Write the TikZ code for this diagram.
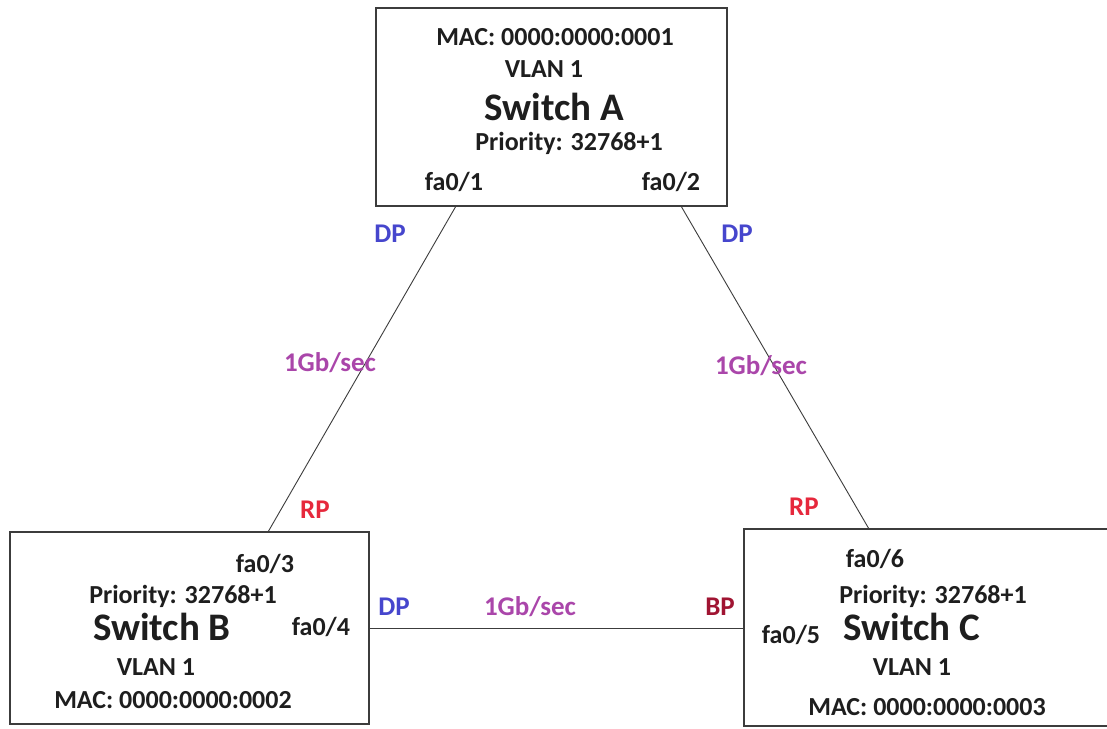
\documentclass[tikz,border=0pt]{standalone}
\usepackage{fontspec}
\setmainfont{Carlito}
\definecolor{dpblue}{RGB}{70,70,205}
\definecolor{gbpurple}{RGB}{170,70,170}
\definecolor{rpred}{RGB}{230,40,60}
\definecolor{bpred}{RGB}{160,20,50}
\definecolor{boxgray}{RGB}{60,60,60}
\definecolor{txt}{RGB}{30,30,30}
\tikzset{
  sw/.style={draw=boxgray, line width=1.8pt, fill=white, inner sep=0pt},
  lbl/.style={font=\bfseries\fontsize{26}{30}\selectfont, text=txt, inner sep=0pt, anchor=base},
  big/.style={font=\bfseries\fontsize{39}{44}\selectfont, text=txt, inner sep=0pt, anchor=base},
  link/.style={draw=boxgray, line width=0.9pt},
  dp/.style={font=\bfseries\fontsize{27}{31}\selectfont, text=dpblue, inner sep=0pt},
  rp/.style={font=\bfseries\fontsize{27}{31}\selectfont, text=rpred, inner sep=0pt},
  bp/.style={font=\bfseries\fontsize{27}{31}\selectfont, text=bpred, inner sep=0pt},
  gb/.style={font=\bfseries\fontsize{27}{31}\selectfont, text=gbpurple, inner sep=0pt},
}
\begin{document}
\begin{tikzpicture}[x=1pt,y=-1pt]
\useasboundingbox (0,0) rectangle (1107,728);
\fill[white] (0,0) rectangle (1107,728);
% links first
\coordinate (pA1) at (456,206);
\coordinate (pB3) at (268,532);
\coordinate (pA2) at (681,206);
\coordinate (pC6) at (869,529);
\coordinate (pB4) at (369,628);
\coordinate (pC5) at (744,628);
\draw[link] (pA1) -- (pB3);
\draw[link] (pA2) -- (pC6);
\draw[link] (pB4) -- (pC5);
% boxes
\node[sw, minimum width=351pt, minimum height=198pt] (A) at (551.5,107) {};
\node[sw, minimum width=359pt, minimum height=192pt] (B) at (189.5,628) {};
\node[sw, minimum width=380pt, minimum height=197pt] (C) at (934,627.5) {};
% switch A text (base anchors)
\node[lbl] (amac) at (555,45) {MAC: 0000:0000:0001};
\node[lbl] (avlan) at (544,77) {VLAN 1};
\node[big] (aname) at (554,120) {Switch A};
\node[lbl] (apri) at (569,150) {Priority: 32768+1};
\node[lbl] (afa1) at (454,190) {fa0/1};
\node[lbl] (afa2) at (671,190) {fa0/2};
% switch B text
\node[lbl] (bfa3) at (265,572) {fa0/3};
\node[lbl] (bpri) at (183,603) {Priority: 32768+1};
\node[big] (bname) at (162,640) {Switch B};
\node[lbl] (bfa4) at (321,635) {fa0/4};
\node[lbl] (bvlan) at (156,675) {VLAN 1};
\node[lbl] (bmac) at (173,708) {MAC: 0000:0000:0002};
% switch C text
\node[lbl] (cfa6) at (875,567) {fa0/6};
\node[lbl] (cpri) at (933,603) {Priority: 32768+1};
\node[big] (cname) at (912,640) {Switch C};
\node[lbl] (cfa5) at (791,643) {fa0/5};
\node[lbl] (cvlan) at (912,675) {VLAN 1};
\node[lbl] (cmac) at (927,715) {MAC: 0000:0000:0003};
% port roles and speeds
\node[dp] (dp1) at (390,234) {DP};
\node[dp] (dp2) at (737,234) {DP};
\node[gb] (gb1) at (330,363) {1Gb/sec};
\node[gb] (gb2) at (761,366) {1Gb/sec};
\node[rp] (rp1) at (315,510) {RP};
\node[rp] (rp2) at (804,507) {RP};
\node[dp] (dp3) at (394,607) {DP};
\node[gb] (gb3) at (530,607) {1Gb/sec};
\node[bp] (bp1) at (720,607) {BP};
\end{tikzpicture}
\end{document}
